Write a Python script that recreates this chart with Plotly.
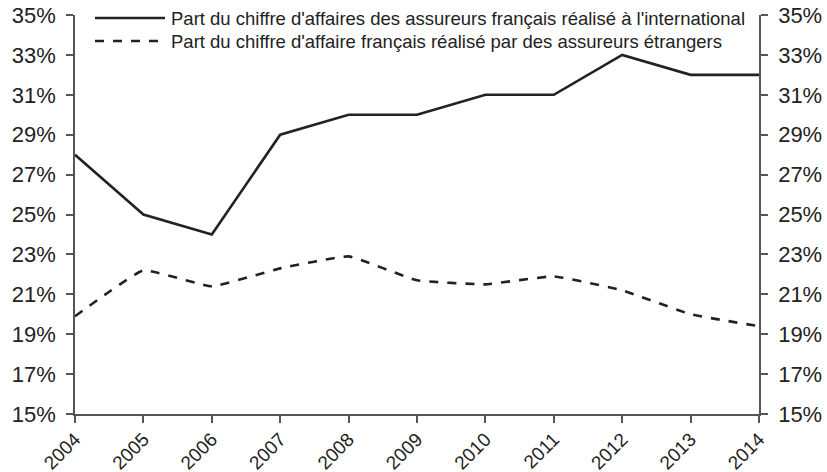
import plotly.graph_objects as go

years = ["2004", "2005", "2006", "2007", "2008", "2009", "2010", "2011", "2012", "2013", "2014"]
intl_share = [28, 25, 24, 29, 30, 30, 31, 31, 33, 32, 32]
foreign_share = [19.9, 22.2, 21.4, 22.3, 22.9, 21.7, 21.5, 21.9, 21.2, 20.0, 19.4]
series_names = [
    "Part du chiffre d'affaires des assureurs français réalisé à l'international",
    "Part du chiffre d'affaire français réalisé par des assureurs étrangers",
]
y_ticks = [15, 17, 19, 21, 23, 25, 27, 29, 31, 33, 35]
y_tick_labels = [f"{v}%" for v in y_ticks]

FONT = "Liberation Sans, Arial, sans-serif"
LINE_COLOR = "#222222"
AXIS_COLOR = "#555555"

fig = go.Figure()
fig.add_trace(go.Scatter(x=years, y=intl_share, mode="lines", name=series_names[0],
                         line=dict(color=LINE_COLOR, width=2.6), showlegend=False))
fig.add_trace(go.Scatter(x=years, y=foreign_share, mode="lines", name=series_names[1],
                         line=dict(color=LINE_COLOR, width=2.6, dash="dash", shape="spline", smoothing=0.3),
                         showlegend=False))
# invisible trace to anchor the right axis
fig.add_trace(go.Scatter(x=years, y=intl_share, mode="lines", yaxis="y2",
                         line=dict(width=0), opacity=0, showlegend=False, hoverinfo="skip"))

axis_common = dict(
    range=[15, 35], tickvals=y_ticks, ticktext=y_tick_labels, automargin=False,
    showgrid=False, zeroline=False, showline=True, linecolor=AXIS_COLOR, linewidth=1.5,
    ticks="outside", ticklen=7, tickcolor=AXIS_COLOR, tickwidth=1.5,
    ticklabeloverflow="allow",
    tickfont=dict(family=FONT, size=22, color="#222"),
)

fig.update_layout(
    width=827, height=472,
    margin=dict(l=75, r=68, t=15, b=58),
    paper_bgcolor="white", plot_bgcolor="white",
    xaxis=dict(showgrid=False, zeroline=False, showline=True, linecolor=AXIS_COLOR, linewidth=1.5,
               ticks="outside", ticklen=7, tickcolor=AXIS_COLOR, tickwidth=1.5, automargin=False,
               ticklabeloverflow="allow", ticklabelstandoff=-2,
               tickangle=-45, range=[0, 10], tickfont=dict(family=FONT, size=19, color="#222")),
    yaxis=dict(**axis_common, side="left", ticklabelstandoff=6),
    yaxis2=dict(**axis_common, side="right", overlaying="y", ticklabelstandoff=6),
    showlegend=False,
)

# manual legend (longer line samples as in the reference)
legend_rows = [(18, "solid"), (41, "dash")]
for (ypx, dash), name in zip(legend_rows, series_names):
    yp = 1 - (ypx - 15) / 399
    fig.add_shape(type="line", xref="paper", yref="paper",
                  x0=(95 - 75) / 684, x1=(165 - 75) / 684, y0=yp, y1=yp,
                  line=dict(color=LINE_COLOR, width=2.6, dash=dash))
    fig.add_annotation(xref="paper", yref="paper", x=(169 - 75) / 684, y=yp,
                       xanchor="left", yanchor="middle", showarrow=False, text=name,
                       font=dict(family=FONT, size=18.5, color="#222"))

# remove the browser's default 8px body margin so the figure fills the window
fig.write_html("out.html", config={"displayModeBar": False},
               post_script="document.body.style.margin='0';")
